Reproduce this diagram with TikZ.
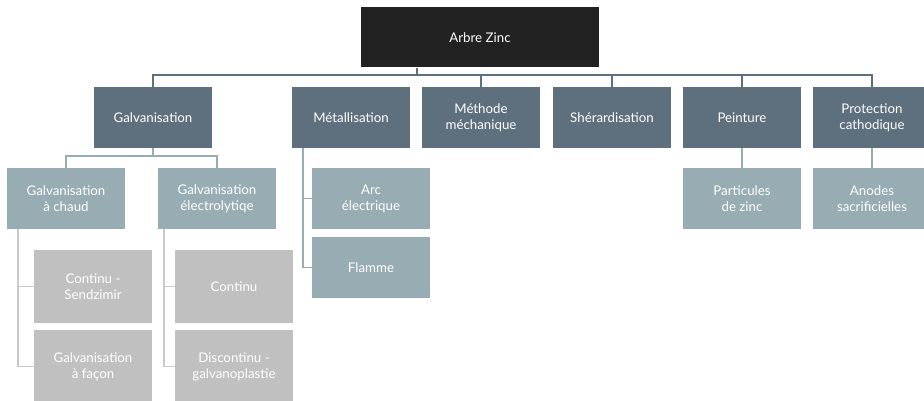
\documentclass[tikz,border=0pt]{standalone}
\usepackage{fontspec}
\setmainfont{Lato}
\usetikzlibrary{calc, positioning}
\definecolor{Root}{HTML}{222222}
\definecolor{Slate}{HTML}{5E6F7E}
\definecolor{LSlate}{HTML}{97ADB3}
\definecolor{LGray}{HTML}{C0C0C0}
\definecolor{LineGray}{HTML}{C9C9C9}
\tikzset{
    box/.style={text=white, align=center, inner sep=0pt, font=\fontsize{13.3}{16}\selectfont},
    rootbox/.style={box, fill=Root, minimum width=238, minimum height=60},
    mainbox/.style={box, fill=Slate, minimum width=118, minimum height=61},
    subbox/.style={box, fill=LSlate, minimum width=118, minimum height=61},
    leafbox/.style={box, fill=LGray, minimum width=118, minimum height=73},
    busline/.style={Slate, line width=1.6},
    subline/.style={LSlate, line width=1.6},
    leafline/.style={LineGray, line width=1.6}
}

\begin{document}
\begin{tikzpicture}[x=1pt, y=-1pt]
\useasboundingbox (0,0) rectangle (924,401);

\node[rootbox] (root) at (480,37.5) {Arbre Zinc};

\node[mainbox] (galv)  at (153,117.5) {Galvanisation};
\node[mainbox] (metal) at (351,117.5) {Métallisation};
\node[mainbox] (meth)  at (481,117.5) {Méthode\\méchanique};
\node[mainbox] (sher)  at (612,117.5) {Shérardisation};
\node[mainbox] (pein)  at (742,117.5) {Peinture};
\node[mainbox] (prot)  at (872,117.5) {Protection\\cathodique};

\node[subbox] (chaud) at (66,198.5)  {Galvanisation\\à chaud};
\node[subbox] (elec)  at (217,198.5) {Galvanisation\\électrolytiqe};
\node[subbox] (arc)   at (371,198.5) {Arc\\électrique};
\node[subbox] (flam)  at (371,267.5) {Flamme};
\node[subbox] (part)  at (742,198.5) {Particules\\de zinc};
\node[subbox] (anod)  at (872,198.5) {Anodes\\sacrificielles};

\node[leafbox] (sendz)  at (93,286.5)  {Continu -\\Sendzimir};
\node[leafbox] (facon)  at (93,366.5)  {Galvanisation\\à façon};
\node[leafbox] (cont)   at (234,286.5) {Continu};
\node[leafbox] (discon) at (234,366.5) {Discontinu -\\galvanoplastie};

\coordinate (bus) at (417,75);
\coordinate (metline) at (303,0);
\coordinate (chline) at (18,0);
\coordinate (elline) at (164,0);

% top level
\draw[busline] (root.south -| bus) -- (bus);
\draw[busline] (galv.north) -- (galv.north |- bus) -| (prot.north);
\foreach \n in {meth, sher, pein}
    \draw[busline] (\n.north) -- (\n.north |- bus);

% second level
\draw[subline] (galv.south) -- ++(0,8) coordinate (gsplit);
\draw[subline] (chaud.north) |- (gsplit) -| (elec.north);
\draw[subline] (metal.south -| metline) |- (flam.west);
\draw[subline] (arc.west) -- (arc.west -| metline);
\draw[subline] (pein.south) -- (part.north);
\draw[subline] (prot.south) -- (anod.north);

% third level
\draw[leafline] (chaud.south -| chline) |- (facon.west);
\draw[leafline] (sendz.west) -- (sendz.west -| chline);
\draw[leafline] (elec.south -| elline) |- (discon.west);
\draw[leafline] (cont.west) -- (cont.west -| elline);

\end{tikzpicture}
\end{document}
